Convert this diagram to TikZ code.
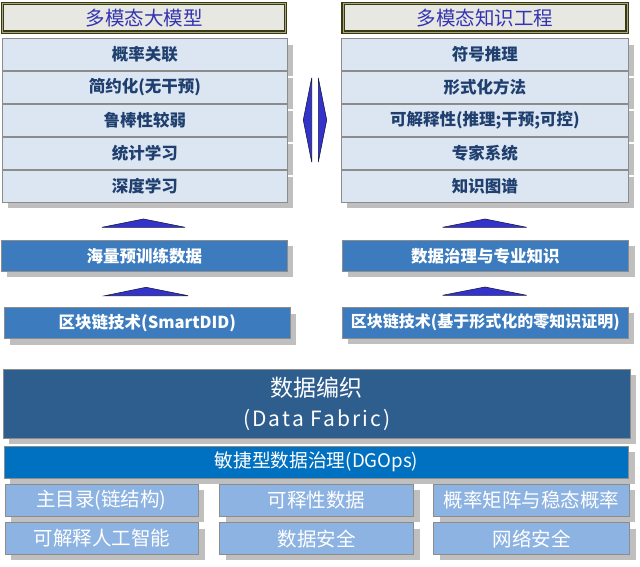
\documentclass[tikz,border=0pt]{standalone}
\usepackage{fontspec}
\setmainfont{Noto Sans CJK SC}
\usetikzlibrary{shadows}
\definecolor{hdrtext}{HTML}{3333B3}
\definecolor{hdrfill}{HTML}{E8E8E2}
\definecolor{hdrline}{HTML}{3A3A12}
\definecolor{hdrmid}{HTML}{A8A880}
\definecolor{lfill}{HTML}{DCE6F2}
\definecolor{lborder}{HTML}{8C8C8C}
\definecolor{ltext}{HTML}{1F3F6F}
\definecolor{bfill}{HTML}{3B7BBE}
\definecolor{fabfill}{HTML}{2E5E8E}
\definecolor{dgofill}{HTML}{0070C0}
\definecolor{sfill}{HTML}{8DB3E2}
\definecolor{shadowgray}{HTML}{BFBFBF}
\definecolor{arrowblue}{HTML}{3333CC}
\definecolor{arrowline}{HTML}{1A1A4D}
\begin{document}
\begin{tikzpicture}[x=1pt,y=-1pt,
 box/.style={anchor=north west, inner sep=0pt, align=center, draw=lborder, line width=0.8pt},
 shad/.style={drop shadow={shadow xshift=6pt,shadow yshift=-6pt,fill=shadowgray,opacity=1}},
 hdr/.style={box, draw=hdrline, line width=1.3pt, double=hdrmid, double distance=0.9pt, fill=hdrfill, text=hdrtext, minimum height=28.8pt, font=\fontsize{19.5}{22}\selectfont},
 lbox/.style={box, shad, fill=lfill, text=ltext, minimum height=31.3pt, font=\fontsize{16.5}{19}\selectfont\bfseries},
 bbox/.style={box, shad, fill=bfill, text=white, minimum height=31pt, font=\fontsize{16.5}{19}\selectfont\bfseries},
 sbox/.style={box, shad, fill=sfill, text=white, minimum height=31.7pt, font=\fontsize{19.5}{22}\selectfont},
 tri/.style={fill=arrowblue, draw=arrowline, line width=0.6pt, line join=miter}
]
\useasboundingbox (0,0) rectangle (640,567);

% headers
\node[hdr, minimum width=283.2pt] (HL) at (1.75,2.75) {多模态大模型};
\node[hdr, minimum width=284pt] (HR) at (342.5,2.75) {多模态知识工程};

% left column light boxes
\node[lbox, minimum width=285pt] (L1) at (2,38.3) {概率关联};
\node[lbox, minimum width=285pt] (L2) at (2,71.5) {简约化(无干预)};
\node[lbox, minimum width=285pt] (L3) at (2,104.5) {鲁棒性较弱};
\node[lbox, minimum width=285pt] (L4) at (2,137.5) {统计学习};
\node[lbox, minimum width=285pt] (L5) at (2,170.5) {深度学习};

% right column light boxes
\node[lbox, minimum width=287pt] (R1) at (341,38.3) {符号推理};
\node[lbox, minimum width=287pt] (R2) at (341,71.5) {形式化方法};
\node[lbox, minimum width=287pt] (R3) at (341,104.5) {可解释性(推理;干预;可控)};
\node[lbox, minimum width=287pt] (R4) at (341,137.5) {专家系统};
\node[lbox, minimum width=287pt] (R5) at (341,170.5) {知识图谱};

% middle double arrow
\draw[tri] (311.7,78) -- (303.3,120) -- (311.7,162) -- cycle;
\draw[tri] (318.3,78) -- (326.7,120) -- (318.3,162) -- cycle;

% up triangles
\draw[tri] (102,227.3) -- (143.5,219) -- (185,227.3) -- cycle;
\draw[tri] (105,295.7) -- (146,287.3) -- (188,295.7) -- cycle;
\draw[tri] (442.7,227.3) -- (485,219) -- (526.7,227.3) -- cycle;
\draw[tri] (442.7,295.3) -- (485,287) -- (526.7,295.3) -- cycle;

% blue boxes
\node[bbox, minimum width=286pt] (BL1) at (1,240) {海量预训练数据};
\node[bbox, minimum width=286.6pt] (BR1) at (341.7,240) {数据治理与专业知识};
\node[bbox, minimum width=286pt] (BL2) at (4,307.3) {区块链技术(SmartDID)};
\node[bbox, minimum width=286.3pt, font=\fontsize{16}{19}\selectfont\bfseries] (BR2) at (341.7,306.7) {区块链技术(基于形式化的零知识证明)};

% data fabric
\node[box, shad, fill=fabfill, text=white, minimum width=627pt, minimum height=68.7pt] (FAB) at (3,369)
  {{\fontsize{23}{30}\selectfont 数据编织}\\[10pt]{\fontsize{21}{26}\selectfont\addfontfeature{LetterSpace=10}(Data Fabric)}};
\node[box, shad, fill=dgofill, text=white, minimum width=624.3pt, minimum height=32pt, font=\fontsize{18.7}{22}\selectfont] (DGO) at (4,445.7) {敏捷型数据治理(DGOps)};

% bottom boxes
\node[sbox, minimum width=193.2pt] (S11) at (4.5,484) {主目录(链结构)};
\node[sbox, minimum width=194pt] (S12) at (219.3,484) {可释性数据};
\node[sbox, minimum width=195.7pt] (S13) at (433.3,484) {概率矩阵与稳态概率};
\node[sbox, minimum width=193.8pt] (S21) at (4.5,522.3) {可解释人工智能};
\node[sbox, minimum width=194pt] (S22) at (219.3,522.3) {数据安全};
\node[sbox, minimum width=196pt] (S23) at (433.3,522.3) {网络安全};
\end{tikzpicture}
\end{document}
